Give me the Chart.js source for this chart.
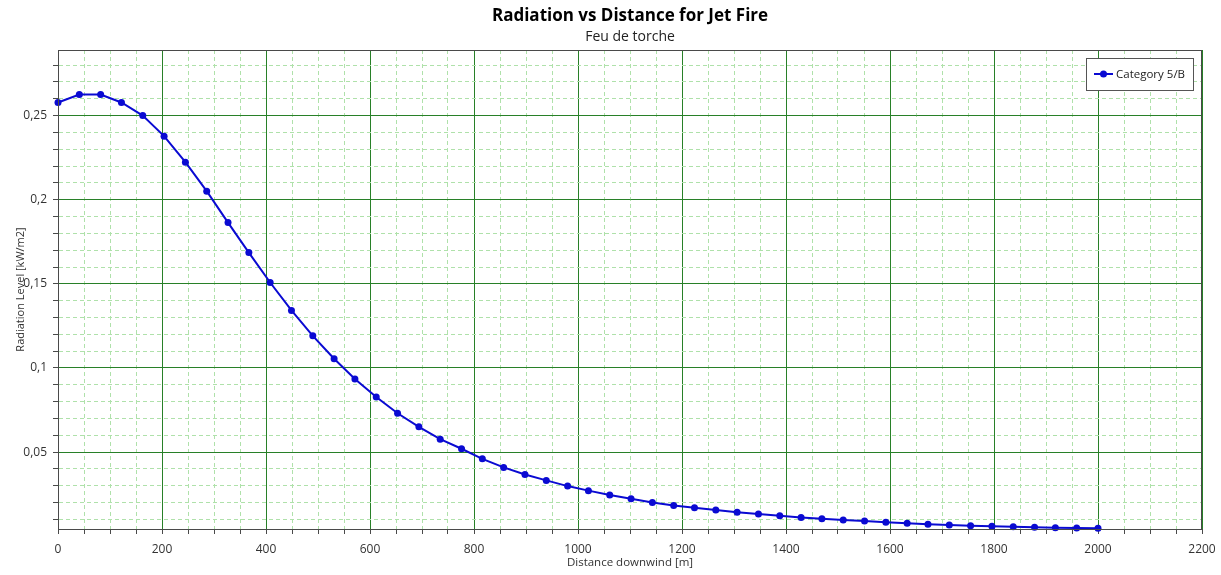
<!DOCTYPE html>
<html>
<head>
<meta charset="utf-8">
<script src="https://cdn.jsdelivr.net/npm/chart.js@4"></script>
<style>
html,body{margin:0;padding:0;background:#fff;}
#wrap{width:1221px;height:575px;position:relative;}
</style>
</head>
<body>
<div id="wrap"><canvas id="c" width="1221" height="575"></canvas></div>
<script>
// ---- data ----
const distances = [0, 41, 82, 122, 163, 204, 245, 286, 327, 367, 408, 449, 490, 531, 571, 612, 653, 694, 735, 776,
  816, 857, 898, 939, 980, 1020, 1061, 1102, 1143, 1184, 1224, 1265, 1306, 1347, 1388, 1429, 1469, 1510, 1551, 1592,
  1633, 1673, 1714, 1755, 1796, 1837, 1878, 1918, 1959, 2000];
const radiation = [0.2578, 0.2625, 0.2625, 0.2578, 0.2500, 0.2378, 0.2223, 0.2051, 0.1864, 0.1686,
  0.1508, 0.1342, 0.1191, 0.1055, 0.0935, 0.0828, 0.0731, 0.0650, 0.0577, 0.0520,
  0.0460, 0.0409, 0.0367, 0.0332, 0.0298, 0.0271, 0.0245, 0.0223, 0.0201, 0.0183,
  0.0170, 0.0156, 0.0142, 0.0132, 0.0122, 0.0112, 0.0104, 0.0097, 0.0091, 0.0083,
  0.0077, 0.0071, 0.0067, 0.0063, 0.0059, 0.0057, 0.0053, 0.0051, 0.0049, 0.0047];
const seriesName = 'Category 5/B';
const xMajorTicks = [0, 200, 400, 600, 800, 1000, 1200, 1400, 1600, 1800, 2000, 2200];
const yMajorTicks = [0.05, 0.1, 0.15, 0.2, 0.25];
const yMajorLabels = ['0,05', '0,1', '0,15', '0,2', '0,25'];
const titleText = 'Radiation vs Distance for Jet Fire';
const subtitleText = 'Feu de torche';
const xTitle = 'Distance downwind [m]';
const yTitle = 'Radiation Level [kW/m2]';

const FONT = "'Open Sans', 'Noto Sans', sans-serif";
const MAJOR = 'rgb(40,128,40)';
const MINOR = 'rgb(175,225,170)';
const AXIS = '#4a4a4a';
const LINE = 'rgb(10,10,210)';

// minor tick positions (grid only)
const xMin = 0, xMax = 2200, xMinorStep = 50;
const yMin = 0.0043, yMax = 0.289, yMinorStep = 0.01;
const xGridTicks = [];
for (let v = xMin; v <= xMax; v += xMinorStep) xGridTicks.push(v);
const yGridTicks = [];
for (let k = 1; k <= 28; k++) yGridTicks.push(Math.round(k * yMinorStep * 1000) / 1000);

const isXMajor = v => xMajorTicks.includes(v);
const yMajorIndex = v => yMajorTicks.findIndex(m => Math.abs(m - v) < 1e-6);

const frameLegend = {
  id: 'frameLegend',
  afterDraw(chart) {
    const ctx = chart.ctx, a = chart.chartArea;
    ctx.save();
    ctx.strokeStyle = AXIS; ctx.lineWidth = 1;
    ctx.strokeRect(Math.round(a.left) + 0.5, Math.round(a.top) + 0.5, Math.round(a.right - a.left) - 1, Math.round(a.bottom - a.top));
    // legend
    const bx = 1086, by = 58, bw = 107, bh = 32;
    ctx.fillStyle = '#fff';
    ctx.fillRect(bx, by, bw, bh);
    ctx.strokeStyle = '#555';
    ctx.strokeRect(bx + 0.5, by + 0.5, bw, bh);
    const cy = by + bh / 2;
    ctx.strokeStyle = LINE; ctx.lineWidth = 2;
    ctx.beginPath(); ctx.moveTo(bx + 8, cy); ctx.lineTo(bx + 27, cy); ctx.stroke();
    ctx.fillStyle = LINE;
    ctx.beginPath(); ctx.arc(bx + 17.5, cy, 3.5, 0, Math.PI * 2); ctx.fill();
    ctx.fillStyle = '#222';
    ctx.font = "11.5px " + FONT;
    ctx.textBaseline = 'middle';
    ctx.fillText(seriesName, bx + 30, cy + 0.5);
    ctx.restore();
  }
};

new Chart(document.getElementById('c'), {
  type: 'line',
  data: {
    datasets: [{
      label: seriesName,
      data: distances.map((d, i) => ({x: d, y: radiation[i]})),
      borderColor: LINE,
      backgroundColor: LINE,
      borderWidth: 2,
      pointRadius: 3.5,
      pointBackgroundColor: LINE,
      pointBorderWidth: 0,
      tension: 0,
      clip: false
    }]
  },
  options: {
    responsive: false,
    animation: false,
    devicePixelRatio: 1,
    layout: {padding: {left: 0, right: 19, top: 0, bottom: 0}},
    plugins: {
      legend: {display: false},
      tooltip: {enabled: false},
      title: {
        display: true, fullSize: false, text: titleText, color: '#000',
        font: {family: FONT, size: 17, weight: 'bold'},
        padding: {top: 5.8, bottom: 0}
      },
      subtitle: {
        display: true, fullSize: false, text: subtitleText, color: '#222',
        font: {family: FONT, size: 14},
        padding: {top: 2.4, bottom: 4.6}
      }
    },
    scales: {
      x: {
        type: 'linear', min: xMin, max: xMax,
        afterBuildTicks: s => { s.ticks = xGridTicks.map(v => ({value: v})); },
        afterFit: s => { s.height = 46; s.paddingLeft = 0; s.paddingRight = 0; },
        ticks: {
          autoSkip: false, maxRotation: 0, padding: 8, color: '#333',
          font: {family: FONT, size: 12},
          callback: v => isXMajor(v) ? String(v) : ''
        },
        grid: {
          color: c => isXMajor(c.tick.value) ? MAJOR : MINOR,
          lineWidth: 1,
          tickColor: AXIS, tickLength: 5, tickWidth: 1,
          drawTicks: true
        },
        border: {
          display: true, color: AXIS, width: 1,
          dash: c => (c.tick && isXMajor(c.tick.value)) ? [] : [4, 3]
        },
        title: {
          display: true, text: xTitle, color: '#333',
          font: {family: FONT, size: 11.5}, padding: {top: 0, bottom: 5}
        }
      },
      y: {
        type: 'linear', min: yMin, max: yMax,
        afterBuildTicks: s => { s.ticks = yGridTicks.map(v => ({value: v})); },
        afterFit: s => { s.width = 58; s.paddingTop = 0; s.paddingBottom = 0; },
        ticks: {
          autoSkip: false, padding: 6, color: '#333',
          font: {family: FONT, size: 12},
          callback: v => { const i = yMajorIndex(v); return i >= 0 ? yMajorLabels[i] : ''; }
        },
        grid: {
          color: c => yMajorIndex(c.tick.value) >= 0 ? MAJOR : MINOR,
          lineWidth: 1,
          tickColor: AXIS, tickLength: 5, tickWidth: 1,
          drawTicks: true
        },
        border: {
          display: true, color: AXIS, width: 1,
          dash: c => (c.tick && yMajorIndex(c.tick.value) >= 0) ? [] : [4, 3]
        },
        title: {
          display: true, text: yTitle, color: '#333',
          font: {family: FONT, size: 11}, padding: {top: 14, bottom: 0}
        }
      }
    }
  },
  plugins: [frameLegend]
});
</script>
</body>
</html>
